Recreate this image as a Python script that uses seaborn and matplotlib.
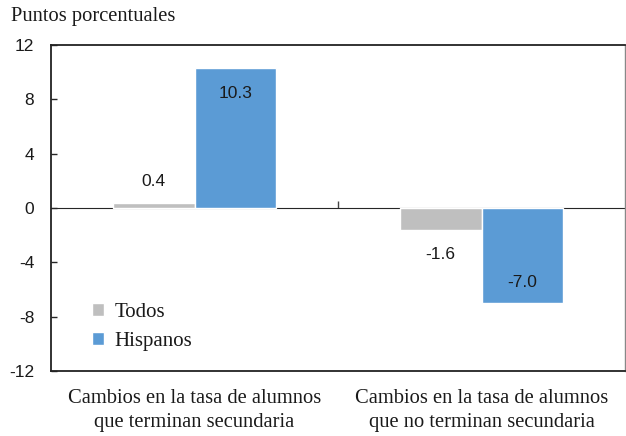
import numpy as np
import pandas as pd
import matplotlib
matplotlib.use('Agg')
import matplotlib.pyplot as plt
import seaborn as sns

categorias = ['Cambios en la tasa de alumnos\nque terminan secundaria',
              'Cambios en la tasa de alumnos\nque no terminan secundaria']
todos = [0.4, -1.6]
hispanos = [10.3, -7.0]
grupos = ['Todos', 'Hispanos']
colores = ['#BFBFBF', '#5B9BD5']
yticks = [-12, -8, -4, 0, 4, 8, 12]

df = pd.DataFrame({
    'categoria': categorias * 2,
    'grupo': ['Todos'] * 2 + ['Hispanos'] * 2,
    'valor': todos + hispanos,
})

sns.set_style('white')
plt.rcParams['ytick.direction'] = 'in'
plt.rcParams['ytick.left'] = True
plt.rcParams['font.serif'] = ['Liberation Serif', 'DejaVu Serif']
plt.rcParams['font.sans-serif'] = ['Liberation Sans', 'DejaVu Sans']
txt = '#1a1a1a'

fig = plt.figure(figsize=(6.26, 4.36), dpi=100)
ax = fig.add_axes([51 / 626, 1 - 371 / 436, 574 / 626, 326 / 436])

sns.barplot(data=df, x='categoria', y='valor', hue='grupo', hue_order=grupos,
            palette=colores, width=0.57, saturation=1, ax=ax, errorbar=None)

ax.set_ylim(-12, 12)
ax.set_xlim(-0.5, 1.5)
ax.set_yticks(yticks)
ax.set_yticklabels([str(t) for t in yticks], family='sans-serif', fontsize=12.5, color=txt)
ax.tick_params(axis='y', direction='in', length=4, width=1, pad=12, left=True)
ax.tick_params(axis='x', length=0, pad=13)
for lab in ax.get_xticklabels():
    lab.set_family('serif')
    lab.set_fontsize(14.8)
    lab.set_color(txt)
    lab.set_linespacing(1.32)
ax.set_xlabel('')
ax.set_ylabel('')

for s in ax.spines.values():
    s.set_visible(True)
    s.set_color('#222222')
    s.set_linewidth(1.3)
ax.spines['right'].set_color('#888888')
ax.spines['right'].set_linewidth(1)

# zero line with the tick between the two categories
zero = ax.secondary_xaxis(0.5)
zero.set_xticks([0.5])
zero.set_xticklabels([])
zero.tick_params(direction='out', length=5, width=1, color='#444444')
zero.spines['bottom'].set_color('#222222')
zero.spines['bottom'].set_linewidth(1)

# value labels
offsets = {0.4: 21, 10.3: -25, -1.6: -25, -7.0: 21}
for cont in ax.containers:
    for bar, v in zip(cont, cont.datavalues):
        x = bar.get_x() + bar.get_width() / 2
        ax.annotate(f'{v:.1f}', (x, v), xytext=(0, offsets.get(round(v, 1), 0)),
                    textcoords='offset pixels', ha='center', va='center',
                    family='sans-serif', fontsize=12.5, color=txt)

leg = ax.legend(loc='lower left', bbox_to_anchor=(0.038, 0.004), frameon=False,
                handlelength=0.6, handleheight=0.6, handletextpad=0.5,
                labelspacing=0.5, borderpad=0.4,
                prop={'family': 'serif', 'size': 15})
for t in leg.get_texts():
    t.set_color(txt)

fig.text(11 / 626, 1 - 16 / 436, 'Puntos porcentuales', family='serif',
         fontsize=14.8, color=txt, va='center', ha='left')

fig.savefig('out.png', dpi=100)
